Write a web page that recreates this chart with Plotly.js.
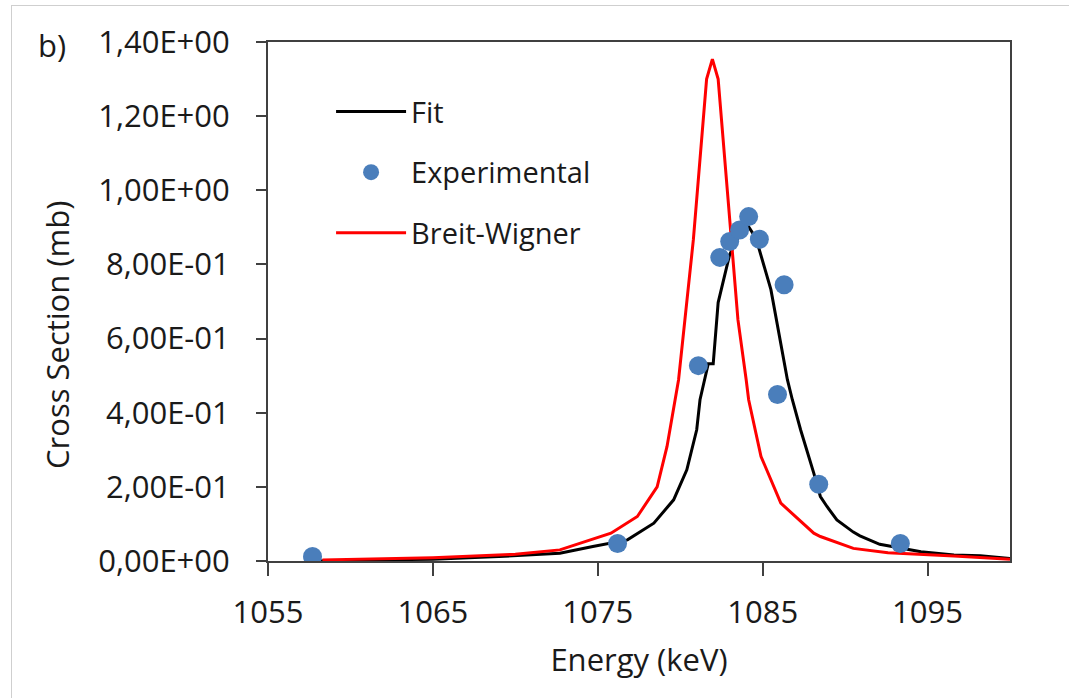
<!DOCTYPE html>
<html>
<head>
<meta charset="utf-8">
<script src="https://cdn.plot.ly/plotly-3.0.1.min.js"></script>
<style>
  html, body { margin: 0; padding: 0; background: #ffffff; }
  #wrap { position: relative; width: 1069px; height: 698px; overflow: hidden; }
  #chart { position: absolute; left: 0; top: 0; width: 1069px; height: 698px; }
  #frame { position: absolute; left: 11px; top: 5px; width: 1069px; height: 698px;
           border-left: 1px solid #cfcfcf; border-top: 1px solid #cfcfcf; pointer-events: none; }
</style>
</head>
<body>
<div id="wrap">
  <div id="chart"></div>
  <div id="frame"></div>
</div>
<script>
// Experimental points
var expX = [1057.7, 1076.2, 1081.1, 1082.4, 1083.0, 1083.6, 1084.15, 1084.8, 1086.3, 1085.9, 1088.4, 1093.35];
var expY = [0.012, 0.047, 0.527, 0.819, 0.862, 0.893, 0.929, 0.868, 0.745, 0.449, 0.207, 0.047];

// Fit curve
var fitX = [1057.7, 1062, 1065, 1069, 1072.7, 1074.7, 1076.8, 1078.4, 1079.6, 1080.4, 1081.0, 1081.2, 1081.7, 1082.0, 1082.3, 1083.0, 1083.6, 1084.1, 1084.6, 1085.5, 1086.5, 1086.8, 1087.3, 1088.1, 1088.5, 1088.9, 1089.5, 1090.5, 1090.9, 1092.1, 1094.6, 1096.6, 1098.2, 1100];
var fitY = [0.000, 0.003, 0.005, 0.012, 0.021, 0.039, 0.057, 0.102, 0.165, 0.246, 0.354, 0.435, 0.532, 0.532, 0.697, 0.827, 0.880, 0.905, 0.870, 0.732, 0.489, 0.435, 0.354, 0.237, 0.174, 0.147, 0.111, 0.078, 0.068, 0.045, 0.025, 0.016, 0.014, 0.007];

// Breit-Wigner curve
var bwX = [1058.3, 1065, 1070, 1072.7, 1075.8, 1077.4, 1078.6, 1079.2, 1079.9, 1080.8, 1081.0, 1081.6, 1081.95, 1082.3, 1082.9, 1083.5, 1084.0, 1084.15, 1084.9, 1086.1, 1088.1, 1088.5, 1090.5, 1092.6, 1096.6, 1100];
var bwY = [0.003, 0.009, 0.018, 0.030, 0.075, 0.120, 0.200, 0.309, 0.489, 0.868, 0.976, 1.300, 1.354, 1.300, 0.976, 0.651, 0.489, 0.435, 0.282, 0.156, 0.075, 0.066, 0.034, 0.022, 0.0135, 0.005];

// Axis ticks
var xTickVals = [1055, 1065, 1075, 1085, 1095];
var yTickVals = [0, 0.2, 0.4, 0.6, 0.8, 1.0, 1.2, 1.4];
var yTickText = ['0,00E+00', '2,00E-01', '4,00E-01', '6,00E-01', '8,00E-01', '1,00E+00', '1,20E+00', '1,40E+00'];

var FONT = 'Open Sans, Noto Sans, sans-serif';
var AX = '#404040';
var TXT = '#1a1a1a';

var traces = [
  { x: fitX, y: fitY, type: 'scatter', mode: 'lines', name: 'Fit', legendgroup: 'g1', legendrank: 1,
    line: { color: '#000000', width: 3 } },
  { x: bwX, y: bwY, type: 'scatter', mode: 'lines', name: 'Breit-Wigner', legendgroup: 'g3', legendrank: 3,
    line: { color: '#ff0000', width: 3 } },
  { x: expX, y: expY, type: 'scatter', mode: 'markers', name: 'Experimental', legendgroup: 'g2', legendrank: 2,
    marker: { color: '#4a7ebb', size: 19 } }
];

var layout = {
  width: 1069, height: 698,
  margin: { l: 268, r: 59, t: 42, b: 137, pad: 0 },
  paper_bgcolor: '#ffffff', plot_bgcolor: '#ffffff',
  font: { family: FONT, color: TXT },
  showlegend: true,
  legend: {
    x: 0.085, y: 0.915, xanchor: 'left', yanchor: 'top',
    font: { family: FONT, size: 29, color: TXT },
    bgcolor: 'rgba(0,0,0,0)', traceorder: 'grouped', tracegroupgap: 20, itemwidth: 70
  },
  xaxis: {
    range: [1055, 1100], tickvals: xTickVals, ticktext: xTickVals.map(String),
    ticks: 'outside', ticklen: 13, tickwidth: 2, tickcolor: AX,
    showline: true, linecolor: AX, linewidth: 2, mirror: true,
    showgrid: false, zeroline: false,
    tickfont: { family: FONT, size: 31, color: TXT },
    ticklabelstandoff: 10,
    title: { text: 'Energy (keV)', font: { family: FONT, size: 31, color: TXT }, standoff: 18 }
  },
  yaxis: {
    range: [0, 1.4], tickvals: yTickVals, ticktext: yTickText,
    ticks: 'outside', ticklen: 10, tickwidth: 2, tickcolor: AX,
    showline: true, linecolor: AX, linewidth: 2, mirror: true,
    showgrid: false, zeroline: false,
    tickfont: { family: FONT, size: 31, color: TXT },
    ticklabelstandoff: 20
  },
  annotations: [
    { text: 'b)', xref: 'paper', yref: 'paper', x: -0.291, y: 0.994, xanchor: 'center', yanchor: 'middle',
      showarrow: false, font: { family: FONT, size: 31, color: TXT } },
    { text: 'Cross Section (mb)', xref: 'paper', yref: 'paper', x: -0.2844, y: 0.4355, textangle: -90,
      xanchor: 'center', yanchor: 'middle', showarrow: false,
      font: { family: FONT, size: 31, color: TXT } }
  ]
};

Plotly.newPlot('chart', traces, layout, { displayModeBar: false, staticPlot: true });
</script>
</body>
</html>
